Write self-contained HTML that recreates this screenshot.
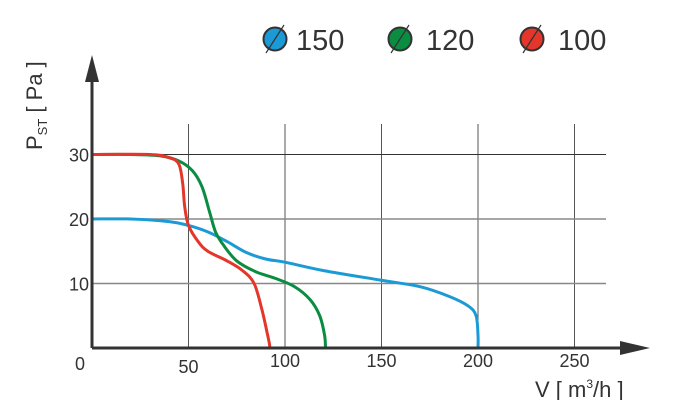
<!DOCTYPE html>
<html><head><meta charset="utf-8"><style>
body{margin:0;background:#fff}
svg{display:block;font-family:"Liberation Sans",sans-serif}
</style></head><body>
<svg width="700" height="400" viewBox="0 0 700 400">
<g id="grid"></g>
<g id="curves"></g>
<g id="axes">
<line x1="92" y1="348" x2="630" y2="348" stroke="#333" stroke-width="3"/>
<polygon points="620,341 650,348 620,355" fill="#333"/>
<line x1="92" y1="348" x2="92" y2="80" stroke="#333" stroke-width="3"/>
<polygon points="85,82 92,55 99,82" fill="#333"/>
</g>
<g id="ticks" fill="#333" font-size="18"></g>
<text transform="translate(42,150) rotate(-90)" font-size="22" fill="#333">P<tspan font-size="13" dy="5">ST</tspan><tspan dy="-5"> [ Pa ]</tspan></text>
<text x="535" y="397" font-size="22" fill="#333">V [ m<tspan font-size="12" dy="-9">3</tspan><tspan dy="9">/h ]</tspan></text>
<g font-size="29" fill="#333">
<g><circle cx="275" cy="39" r="11.5" fill="#1b9ad6" stroke="#333" stroke-width="2"/><line x1="266" y1="53" x2="284" y2="25" stroke="#333" stroke-width="1.2"/><text x="296" y="50">150</text></g>
<g><circle cx="400" cy="39" r="11.5" fill="#0a8c41" stroke="#333" stroke-width="2"/><line x1="391" y1="53" x2="409" y2="25" stroke="#333" stroke-width="1.2"/><text x="426" y="50">120</text></g>
<g><circle cx="532" cy="39" r="11.5" fill="#e4362a" stroke="#333" stroke-width="2"/><line x1="523" y1="53" x2="541" y2="25" stroke="#333" stroke-width="1.2"/><text x="558" y="50">100</text></g>
</g>
</svg>
<script>
const xTicks=[50,100,150,200,250];
const yTicks=[10,20,30];
const blueX=[0,20,40,50,60,70,80,90,100,120,150,170,185,195,199,200,200];
const blueY=[20,20,19.6,19,18,16.5,14.8,13.8,13.3,12,10.5,9.5,8,6.5,5,2,0];
const greenX=[0,20,35,45,52,57,61,64,68,75,85,95,105,113,118,120.5,121];
const greenY=[30,30,29.8,29,27.5,25,21,18,16,13.5,11.8,10.8,9.5,7.5,5,2,0];
const redX=[0,30,40,45,47,48,50,55,60,70,78,84,88,91,92,92];
const redY=[30,30,29.5,28.5,25.5,22,19,16.5,15,13.5,12,10,6,2,0.5,0];
const sx=v=>92+v*1.93, sy=v=>348-v*6.45;
const NS="http://www.w3.org/2000/svg";
const grid=document.getElementById('grid'),ticks=document.getElementById('ticks'),curves=document.getElementById('curves');
xTicks.forEach(t=>{const l=document.createElementNS(NS,'line');


l.setAttribute('x1',sx(t));l.setAttribute('x2',sx(t));l.setAttribute('y1',124);l.setAttribute('y2',348);l.setAttribute('stroke','#555');l.setAttribute('stroke-width','1');grid.appendChild(l);
const tx=document.createElementNS(NS,'text');


tx.setAttribute('x',sx(t));tx.setAttribute('y',t===50?373:367);tx.setAttribute('text-anchor','middle');tx.textContent=t;ticks.appendChild(tx);});
yTicks.forEach(t=>{const l=document.createElementNS(NS,'line');


l.setAttribute('x1',92);l.setAttribute('x2',606);l.setAttribute('y1',sy(t));l.setAttribute('y2',sy(t));l.setAttribute('stroke',t===30?'#333':'#888');l.setAttribute('stroke-width',t===30?'1':'1.5');grid.appendChild(l);
const tx=document.createElementNS(NS,'text');


tx.setAttribute('x',89);tx.setAttribute('y',sy(t)+7);tx.setAttribute('text-anchor','end');tx.textContent=t;ticks.appendChild(tx);});
const z=document.createElementNS(NS,'text');


z.setAttribute('x',80);z.setAttribute('y',370);z.setAttribute('text-anchor','middle');z.textContent='0';ticks.appendChild(z);
function path(xs,ys){const p=xs.map((x,i)=>[sx(x),sy(ys[i])]);let d='M'+p[0][0]+','+p[0][1];
for(let i=0;i<p.length-1;i++){const p0=p[i-1]||p[i],p1=p[i],p2=p[i+1],p3=p[i+2]||p2;
d+=' C'+(p1[0]+(p2[0]-p0[0])/6)+','+(p1[1]+(p2[1]-p0[1])/6)+' '+(p2[0]-(p3[0]-p1[0])/6)+','+(p2[1]-(p3[1]-p1[1])/6)+' '+p2[0]+','+p2[1];}return d;}
[[blueX,blueY,'#1b9ad6','curve-150'],[greenX,greenY,'#0a8c41','curve-120'],[redX,redY,'#e4362a','curve-100']].forEach(s=>{const e=document.createElementNS(NS,'path');


e.setAttribute('d',path(s[0],s[1]));e.setAttribute('fill','none');e.setAttribute('stroke',s[2]);e.setAttribute('stroke-width','3');curves.appendChild(e);});
</script>
</body></html>
